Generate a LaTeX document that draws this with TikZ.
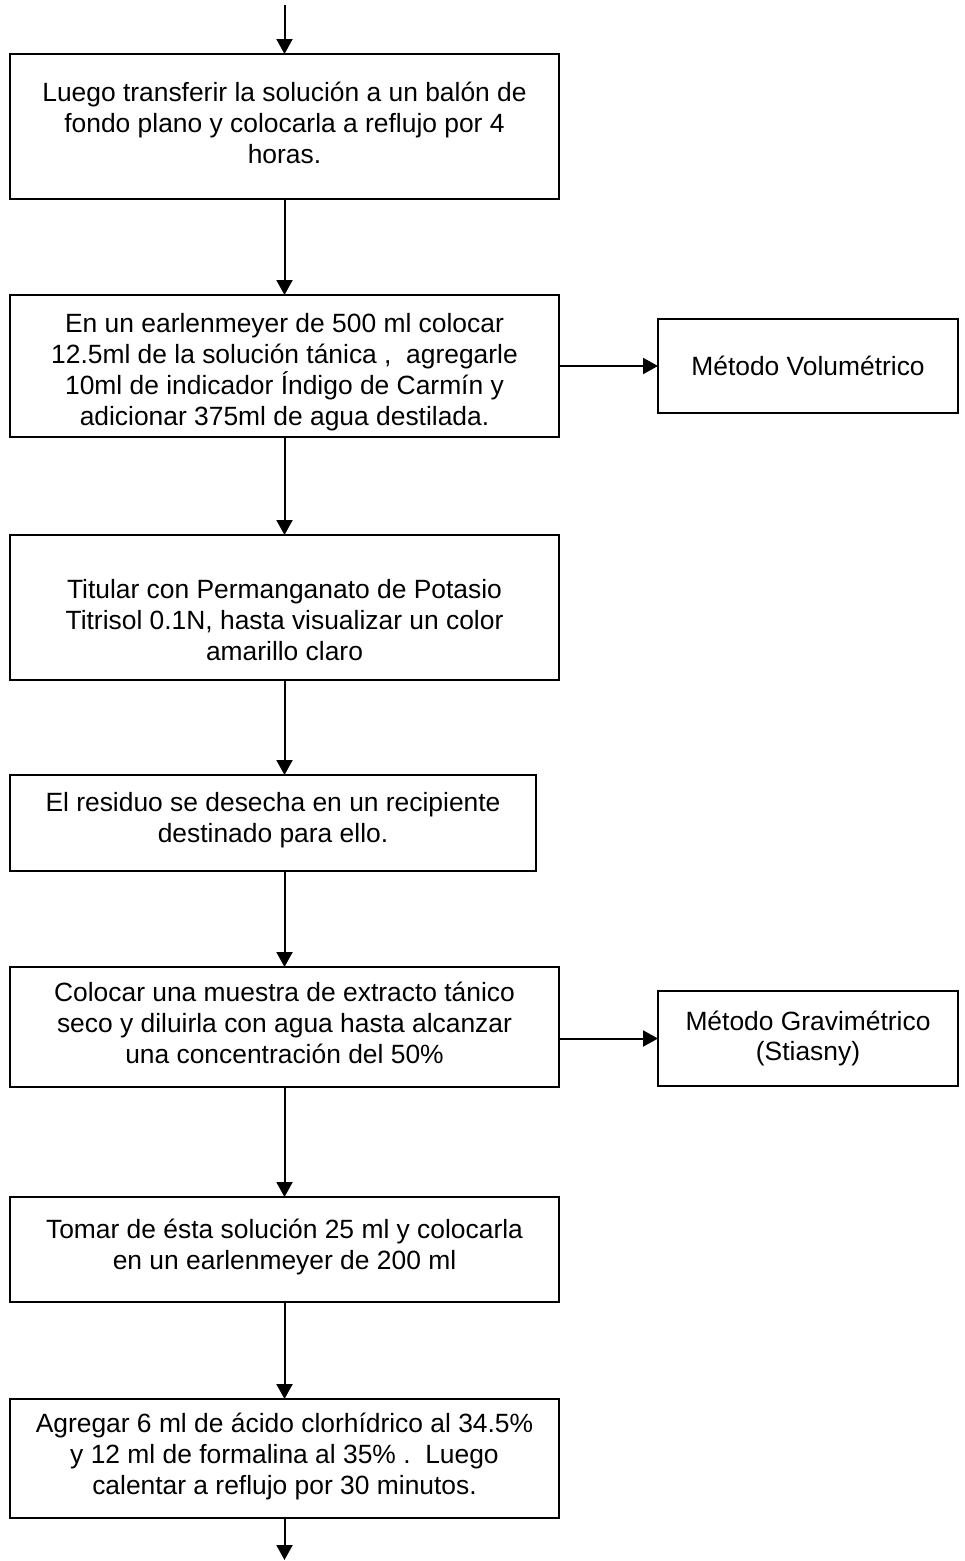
\documentclass[tikz,border=0pt]{standalone}
\usepackage{fontspec}
\setmainfont{Liberation Sans}
\usetikzlibrary{arrows.meta}
\begin{document}
\begin{tikzpicture}[x=1pt,y=-1pt,
  stepbox/.style={draw=black,line width=2pt,inner sep=0pt,outer sep=0pt,anchor=north west},
  steptext/.style={align=center,inner sep=0pt,anchor=north,font=\fontsize{26.4pt}{30.8pt}\selectfont},
  sidetext/.style={align=center,font=\fontsize{26.4pt}{30.8pt}\selectfont},
  flow/.style={line width=2pt,-{Triangle[width=16pt,length=15pt]}}]
\useasboundingbox (0,0) rectangle (965,1561);

% main column of steps
\node[stepbox,minimum width=549pt,minimum height=145pt] (b1) at (10,54) {};
\node[stepbox,minimum width=549pt,minimum height=142pt] (b2) at (10,295) {};
\node[stepbox,minimum width=549pt,minimum height=145pt] (b3) at (10,535) {};
\node[stepbox,minimum width=526pt,minimum height=96pt]  (b4) at (10,775) {};
\node[stepbox,minimum width=549pt,minimum height=120pt] (b5) at (10,967) {};
\node[stepbox,minimum width=549pt,minimum height=105pt] (b6) at (10,1197) {};
\node[stepbox,minimum width=549pt,minimum height=119pt] (b7) at (10,1399) {};

% side boxes naming the methods
\node[stepbox,minimum width=300pt,minimum height=94pt] (s1) at (658,319) {};
\node[sidetext] (s1t) at (s1.center) {Método Volumétrico};
\node[stepbox,minimum width=300pt,minimum height=95pt] (s2) at (658,991) {};
\node[sidetext] (s2t) at (s2.center) {Método Gravimétrico\\(Stiasny)};

% step texts
\node[steptext] (t1) at (284.5,80.5) {\rule{0pt}{21pt}Luego transferir la solución a un balón de\\fondo plano y colocarla a reflujo por 4\\horas.};
\node[steptext] (t2) at (284.5,311.5) {\rule{0pt}{21pt}En un earlenmeyer de 500 ml colocar\\12.5ml de la solución tánica ,\ \ agregarle\\10ml de indicador Índigo de Carmín y\\adicionar 375ml de agua destilada.};
\node[steptext] (t3) at (284.5,577.5) {\rule{0pt}{21pt}Titular con Permanganato de Potasio\\Titrisol 0.1N, hasta visualizar un color\\amarillo claro};
\node[steptext] (t4) at (273,790.5) {\rule{0pt}{21pt}El residuo se desecha en un recipiente\\destinado para ello.};
\node[steptext] (t5) at (284.5,980.5) {\rule{0pt}{21pt}Colocar una muestra de extracto tánico\\seco y diluirla con agua hasta alcanzar\\una concentración del 50\%};
\node[steptext] (t6) at (284.5,1217.5) {\rule{0pt}{21pt}Tomar de ésta solución 25 ml y colocarla\\en un earlenmeyer de 200 ml};
\node[steptext] (t7) at (284.5,1411.5) {\rule{0pt}{21pt}Agregar 6 ml de ácido clorhídrico al 34.5\%\\y 12 ml de formalina al 35\% .\ \ Luego\\calentar a reflujo por 30 minutos.};

% connectors
\coordinate (in) at (284.5,5);
\coordinate (out) at (284.5,1560);
\draw[flow] (in) -- (b1.north);
\draw[flow] (b1.south) -- (b2.north);
\draw[flow] (b2.south) -- (b3.north);
\draw[flow] (b3.south) -- (b3.south |- b4.north);
\draw[flow] (b3.south |- b4.south) -- (b5.north);
\draw[flow] (b5.south) -- (b6.north);
\draw[flow] (b6.south) -- (b7.north);
\draw[flow] (b7.south) -- (out);
\draw[flow] (s1.west -| b2.east) -- (s1.west);
\draw[flow] (s2.west -| b5.east) -- (s2.west);
\end{tikzpicture}
\end{document}
